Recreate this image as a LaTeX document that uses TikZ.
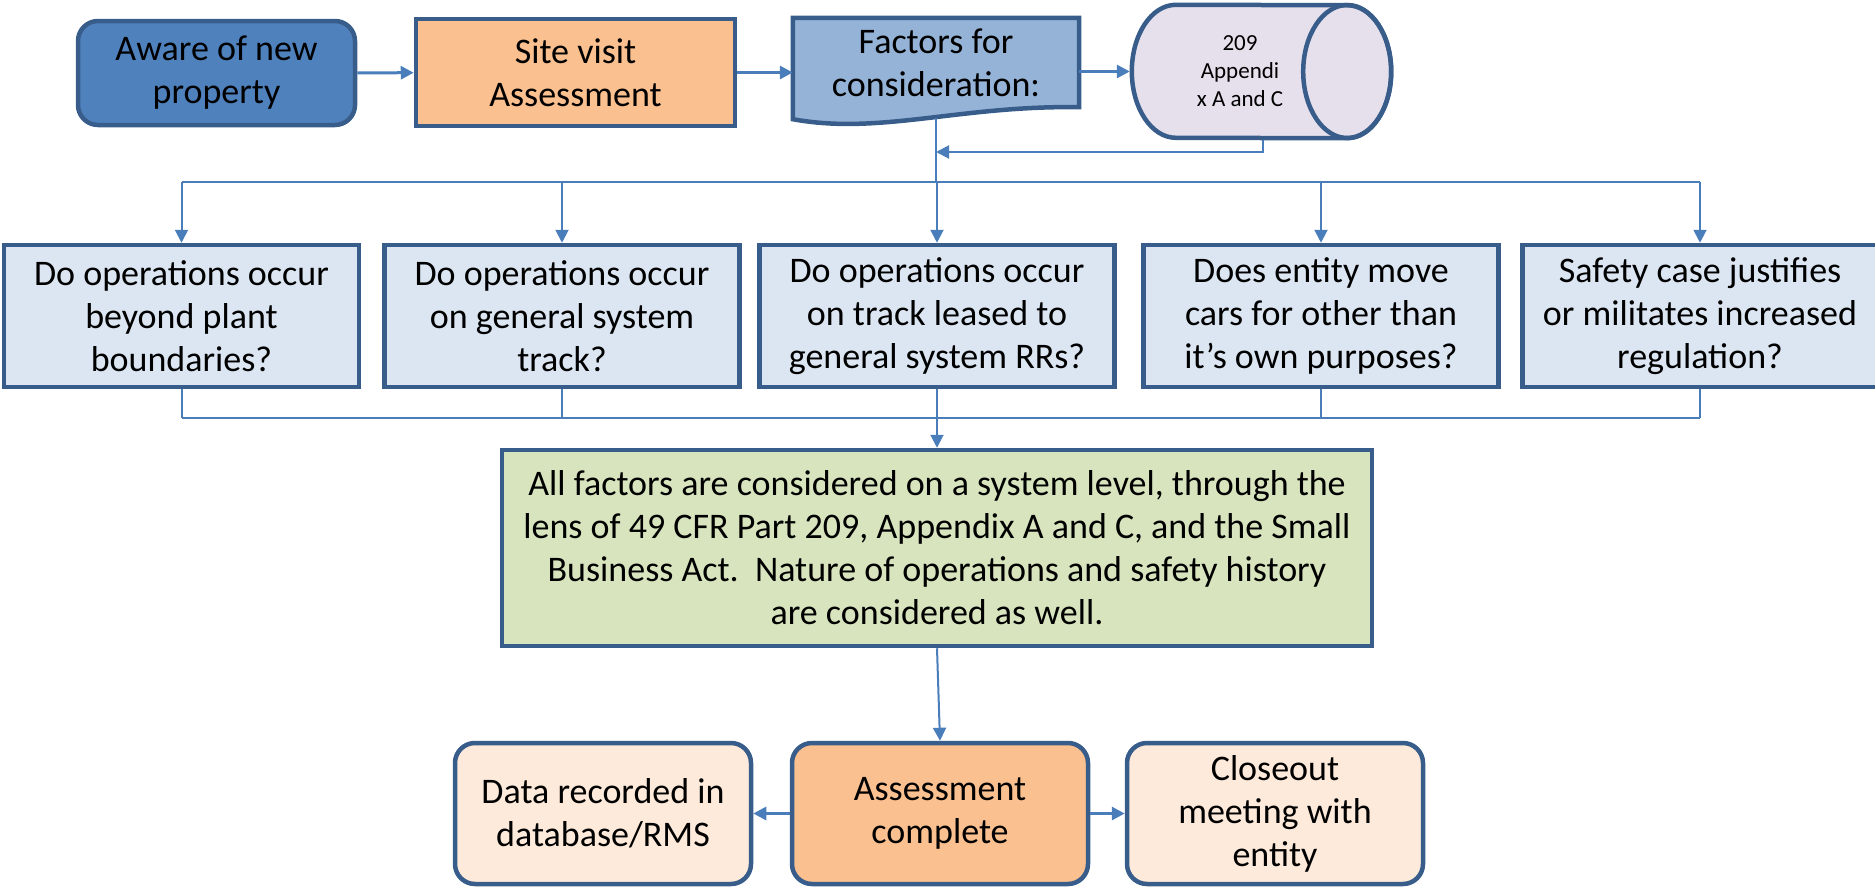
\documentclass[tikz,border=0pt]{standalone}
\usepackage{fontspec}
\setmainfont{Carlito}
\usetikzlibrary{arrows.meta,calc,backgrounds}
\definecolor{edgeblue}{HTML}{385D8A}
\definecolor{linkblue}{HTML}{4A7EBB}
\definecolor{awarefill}{HTML}{4F81BD}
\definecolor{orangefill}{HTML}{FAC090}
\definecolor{docfill}{HTML}{95B3D7}
\definecolor{cylfill}{HTML}{E6E0EC}
\definecolor{askfill}{HTML}{DCE6F2}
\definecolor{greenfill}{HTML}{D7E4BD}
\definecolor{peachfill}{HTML}{FDEADA}
\begin{document}
\begin{tikzpicture}[
    x=1pt, y=-1pt,
    every node/.style={align=center, font=\fontsize{36pt}{43pt}\selectfont, inner sep=0pt},
    plainbox/.style={draw=edgeblue, line width=4.5pt},
    round box/.style={plainbox, rounded corners=20pt},
    question/.style={plainbox, fill=askfill, minimum width=355pt, minimum height=142pt},
    outcome/.style={round box, minimum width=296pt, minimum height=141pt},
    link/.style={draw=linkblue, line width=2pt},
    arrow/.style={link, -{Triangle[length=13pt,width=13pt]}},
    thick arrow/.style={arrow, line width=3pt},
    ]
\useasboundingbox (0,0) rectangle (1875,889);
\node[round box, fill=awarefill, minimum width=277pt, minimum height=104pt] (aware) at (216.5,73) {Aware of new\\property};
\node[plainbox, fill=orangefill, minimum width=319pt, minimum height=107pt] (site) at (575.5,72.5) {Site visit\\Assessment};
\node[minimum width=286pt, minimum height=89pt] (factors) at (936,62.5) {Factors for\\consideration:};
\node[minimum width=128pt, minimum height=133pt, font=\fontsize{23pt}{28pt}\selectfont] (appx) at (1240,71.5) {209\\Appendi\\x A and C};
\begin{scope}[on background layer]
\draw[plainbox, fill=docfill] (factors.north west) -- (factors.north east) -- (factors.south east)
    .. controls ($(factors.south east)+(-119,-2)$) and ($(factors.south west)+(87,28)$) .. ($(factors.south west)+(0,12)$) -- cycle;
\draw[plainbox, fill=cylfill] (appx.north west) arc[start angle=90, end angle=270, x radius=44pt, y radius=66.5pt]
    -- ($(appx.south east)+(43,0)$) arc[start angle=-90, end angle=90, x radius=44pt, y radius=66.5pt] -- cycle;
\draw[plainbox] ($(appx.east)+(43,0)$) ellipse[x radius=44pt, y radius=66.5pt];
\end{scope}
\node[question] (q1) at (181.5,316) {Do operations occur\\beyond plant\\boundaries?};
\node[question] (q2) at (562,316) {Do operations occur\\on general system\\track?};
\node[question] (q3) at (937,316) {Do operations occur\\on track leased to\\general system RRs?};
\node[question] (q4) at (1321,316) {Does entity move\\cars for other than\\it’s own purposes?};
\node[question] (q5) at (1700,316) {Safety case justifies\\or militates increased\\regulation?};
\node[plainbox, fill=greenfill, minimum width=870pt, minimum height=196pt] (summary) at (937,548) {All factors are considered on a system level, through the\\lens of 49 CFR Part 209, Appendix A and C, and the Small\\Business Act.\ \ Nature of operations and safety history\\are considered as well.};
\node[outcome, fill=peachfill] (data) at (603,813.5) {Data recorded in\\database/RMS};
\node[outcome, fill=orangefill] (done) at (940,813.5) {Assessment\\complete};
\node[outcome, fill=peachfill] (closeout) at (1275,813.5) {Closeout\\meeting with\\entity};
\coordinate (factorsbot) at ($(factors.south)+(0,11)$);
\coordinate (appxleft) at ($(appx.west)+(-46,0)$);
\coordinate (appxbot) at ($(appx.south)+(23,2)$);
\coordinate (loop) at (936,152);
\coordinate (fanout) at (936,182);
\coordinate (fanin) at (937,418);
\draw[thick arrow] (aware) -- (site);
\draw[thick arrow] (site.east) -- (site.east -| factors.west);
\draw[thick arrow] (appxleft -| factors.east) -- (appxleft);
\draw[arrow] (appxbot) |- (loop);
\draw[link] (factorsbot) -- (fanout);
\draw[link] (q1.north |- fanout) -- (q5.north |- fanout);
\foreach \ask in {q1,q2,q3,q4,q5} {
  \draw[arrow] (\ask.north |- fanout) -- (\ask.north);
  \draw[link] (\ask.south) -- (\ask.south |- fanin);
}
\draw[link] (q1.south |- fanin) -- (q5.south |- fanin);
\draw[arrow] (fanin) -- (summary.north);
\draw[arrow] (summary.south) -- (done.north);
\draw[thick arrow] (done) -- (data);
\draw[thick arrow] (done) -- (closeout);
\end{tikzpicture}
\end{document}
